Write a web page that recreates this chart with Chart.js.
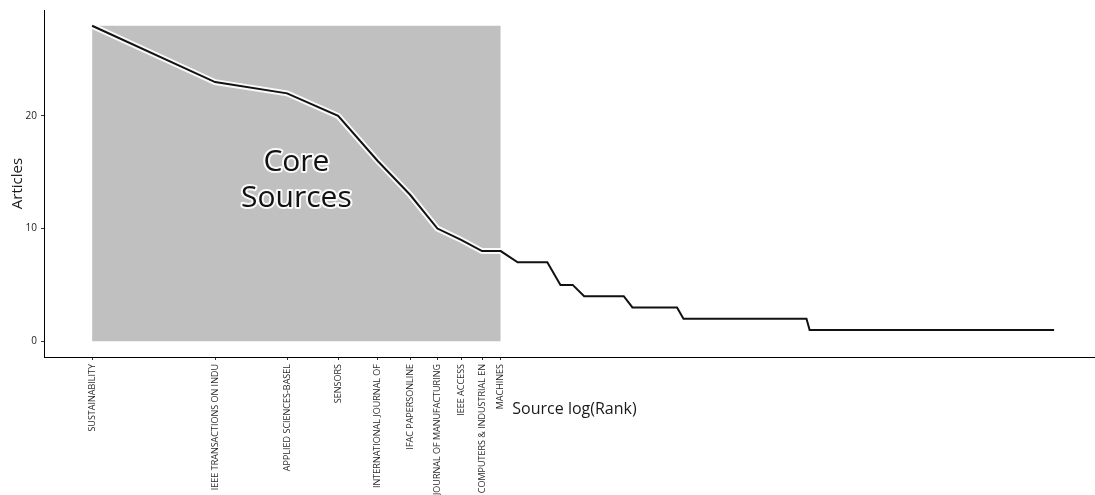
<!DOCTYPE html>
<html>
<head>
<meta charset="utf-8">
<title>Core Sources by Bradford's Law</title>
<script src="https://cdn.jsdelivr.net/npm/chart.js@4.4.0/dist/chart.umd.min.js"></script>
<style>
  html, body { margin: 0; padding: 0; background: #fff; }
  #wrap { width: 1095px; height: 495px; }
</style>
</head>
<body>
<div id="wrap"><canvas id="bradfordChart" width="1095" height="495"></canvas></div>
<script>
// articles per source, in rank order (rank = position + 1)
const articles = [
  28, 23, 22, 20, 16, 13, 10, 9, 8, 8,
  7, 7, 7, 5, 5, 4, 4, 4, 4, 4,
  3, 3, 3, 3, 3, 3, 3, 2, 2, 2,
  2, 2, 2, 2, 2, 2, 2, 2, 2, 2,
  2, 2, 2, 2, 2, 2, 2, 2, 2, 2,
  2, 2, 2, 2, 2, 2, 1, 1, 1, 1,
  1, 1, 1, 1, 1, 1, 1, 1, 1, 1,
  1, 1, 1, 1, 1, 1, 1, 1, 1, 1,
  1, 1, 1, 1, 1, 1, 1, 1, 1, 1,
  1, 1, 1, 1, 1, 1, 1, 1, 1, 1,
  1, 1, 1, 1, 1, 1, 1, 1, 1, 1,
  1, 1, 1, 1, 1, 1, 1, 1, 1, 1,
  1, 1, 1, 1, 1, 1, 1, 1, 1, 1,
  1, 1, 1, 1, 1, 1, 1, 1, 1, 1,
  1, 1, 1, 1, 1, 1, 1, 1, 1, 1,
  1, 1, 1, 1, 1, 1, 1, 1, 1, 1,
  1, 1, 1, 1, 1, 1, 1, 1, 1, 1,
  1, 1, 1, 1, 1, 1, 1, 1, 1, 1,
  1, 1, 1, 1, 1, 1, 1, 1, 1, 1,
  1, 1, 1, 1, 1, 1, 1, 1, 1, 1,
  1, 1, 1, 1, 1, 1, 1, 1, 1, 1,
  1, 1, 1, 1, 1, 1, 1, 1, 1, 1,
  1, 1, 1, 1, 1, 1
];

// zone 1 sources (x tick labels)
const coreSources = [
  'SUSTAINABILITY',
  'IEEE TRANSACTIONS ON INDU',
  'APPLIED SCIENCES-BASEL',
  'SENSORS',
  'INTERNATIONAL JOURNAL OF',
  'IFAC PAPERSONLINE',
  'JOURNAL OF MANUFACTURING',
  'IEEE ACCESS',
  'COMPUTERS & INDUSTRIAL EN',
  'MACHINES'
];

const yTicks = [0, 10, 20];

const linePoints = articles.map((a, i) => ({ x: Math.log(i + 1), y: a }));
const coreTop = articles[0];
const coreBox = [
  { x: Math.log(1), y: coreTop },
  { x: Math.log(coreSources.length), y: coreTop }
];

// titles + "Core Sources" label
const textPlugin = {
  id: 'textPlugin',
  afterDatasetsDraw(chart) {
    const c = chart.ctx;
    const xs = chart.scales.x, ys = chart.scales.y;
    const cx = xs.getPixelForValue(Math.log(coreSources.length) / 2);
    const cy = ys.getPixelForValue(coreTop / 2);
    c.save();
    c.font = '30px "Open Sans"';
    c.textAlign = 'center';
    c.textBaseline = 'alphabetic';
    c.lineJoin = 'round';
    [['Core', -13], ['Sources', 23]].forEach(([t, dy]) => {
      c.strokeStyle = 'rgba(255,255,255,0.9)';
      c.lineWidth = 4;
      c.strokeText(t, cx, cy + dy);
      c.fillStyle = '#111';
      c.fillText(t, cx, cy + dy);
    });

    c.font = '16px "Open Sans"';
    c.fillStyle = '#1a1a1a';
    c.textBaseline = 'middle';
    c.fillText('Source log(Rank)', (chart.chartArea.left + chart.chartArea.right) / 2 + 5, chart.chartArea.bottom + 52);

    c.font = '15px "Open Sans"';
    c.translate(18, (chart.chartArea.top + chart.chartArea.bottom) / 2);
    c.rotate(-Math.PI / 2);
    c.fillText('Articles', 0, 0);
    c.restore();
  }
};

const ctx = document.getElementById('bradfordChart').getContext('2d');
const bradfordChart = new Chart(ctx, {
  type: 'line',
  data: {
    datasets: [
      {
        data: linePoints,
        borderColor: '#111',
        borderWidth: 2,
        pointRadius: 0,
        tension: 0,
        fill: false
      },
      {
        data: linePoints,
        borderColor: 'rgba(255,255,255,0.9)',
        borderWidth: 6,
        pointRadius: 0,
        tension: 0,
        fill: false
      },
      {
        data: coreBox,
        borderWidth: 0,
        borderColor: 'rgba(0,0,0,0)',
        backgroundColor: '#c0c0c0',
        pointRadius: 0,
        fill: 'origin'
      }
    ]
  },
  options: {
    responsive: false,
    animation: false,
    layout: { padding: { top: 8, right: 0, left: 0, bottom: 0 } },
    plugins: {
      legend: { display: false },
      tooltip: { enabled: false }
    },
    scales: {
      x: {
        type: 'linear',
        min: -0.271,
        max: 5.651,
        afterBuildTicks: function (scale) {
          scale.ticks = coreSources.map((_, i) => ({ value: Math.log(i + 1) }));
        },
        afterFit: function (scale) {
          scale.height = 138;
        },
        ticks: {
          autoSkip: false,
          minRotation: 90,
          maxRotation: 90,
          padding: 4,
          color: '#2b2b2b',
          font: { family: '"Open Sans"', size: 9 },
          callback: function (value, index) {
            return coreSources[index];
          }
        },
        grid: {
          display: true,
          drawOnChartArea: false,
          drawTicks: true,
          tickLength: 3,
          color: '#333'
        },
        border: { display: true, color: '#000', width: 1 }
      },
      y: {
        min: -1.4,
        max: 29.4,
        afterBuildTicks: function (scale) {
          scale.ticks = yTicks.map(v => ({ value: v }));
        },
        afterFit: function (scale) {
          scale.width = 44;
        },
        ticks: {
          padding: 4,
          color: '#222',
          font: { family: '"Open Sans"', size: 10 }
        },
        grid: {
          display: true,
          drawOnChartArea: false,
          drawTicks: true,
          tickLength: 3,
          color: '#333'
        },
        border: { display: true, color: '#000', width: 1 }
      }
    }
  },
  plugins: [textPlugin]
});
</script>
</body>
</html>
